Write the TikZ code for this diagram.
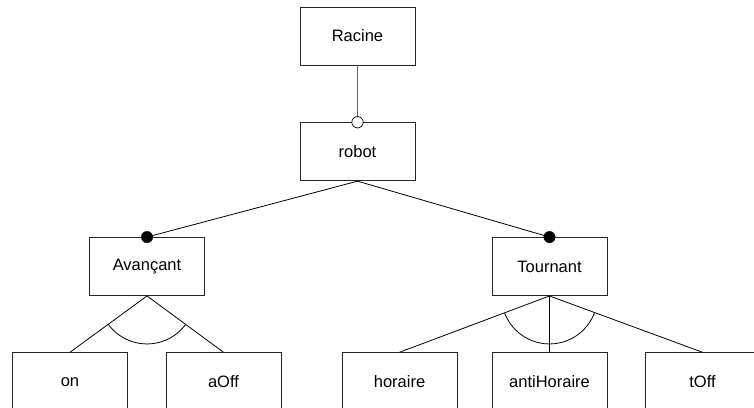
\documentclass[tikz,border=0pt]{standalone}
\usepackage{fontspec}
\setmainfont{Liberation Sans}
\begin{document}
\begin{tikzpicture}[x=1pt,y=-1pt,
  feat/.style={draw=black!85,line width=0.9pt,minimum width=115pt,minimum height=58pt,inner sep=0pt,font=\fontsize{16.5}{19}\selectfont},
  edge/.style={draw=black,line width=0.8pt},
  mandatory/.style={fill=black,draw=black},
  optional/.style={fill=white,draw=black,line width=0.7pt}]
\useasboundingbox (0,0) rectangle (754,407);
\clip (0,0) rectangle (754,407);
\node[feat] (racine) at (357.5,36) {Racine};
\node[feat] (robot) at (357.5,151.7) {robot};
\node[feat] (av) at (147,266.5) {Avançant};
\node[feat] (tr) at (549.5,266.5) {Tournant};
\node[feat] (on) at (70,381.7) {on};
\node[feat] (aoff) at (223.5,381.7) {aOff};
\node[feat] (hor) at (399.5,381.7) {horaire};
\node[feat] (anti) at (549.5,381.7) {antiHoraire};
\node[feat] (toff) at (702.5,381.7) {tOff};
\draw[draw=black!60,line width=1.3pt] (racine.south) -- (robot.north);
\draw[edge] (robot.south) -- (av.north);
\draw[edge] (robot.south) -- (tr.north);
\draw[optional] (robot.north) circle (5.7pt);
\fill[mandatory] (av.north) circle (5.7pt);
\fill[mandatory] (tr.north) circle (5.7pt);
\draw[edge] (av.south) -- (on.north);
\draw[edge] (av.south) -- (aoff.north);
\draw[edge] (tr.south) -- (hor.north);
\draw[edge] (tr.south) -- (anti.north);
\draw[edge] (tr.south) -- (toff.north);
\begin{scope}
\clip (av.south) -- (on.north) -- (aoff.north) -- cycle;
\draw[edge] (av.south) circle (48pt);
\end{scope}
\begin{scope}
\clip (tr.south) -- (hor.north) -- (toff.north) -- cycle;
\draw[edge] (tr.south) circle (48pt);
\end{scope}
\end{tikzpicture}
\end{document}
